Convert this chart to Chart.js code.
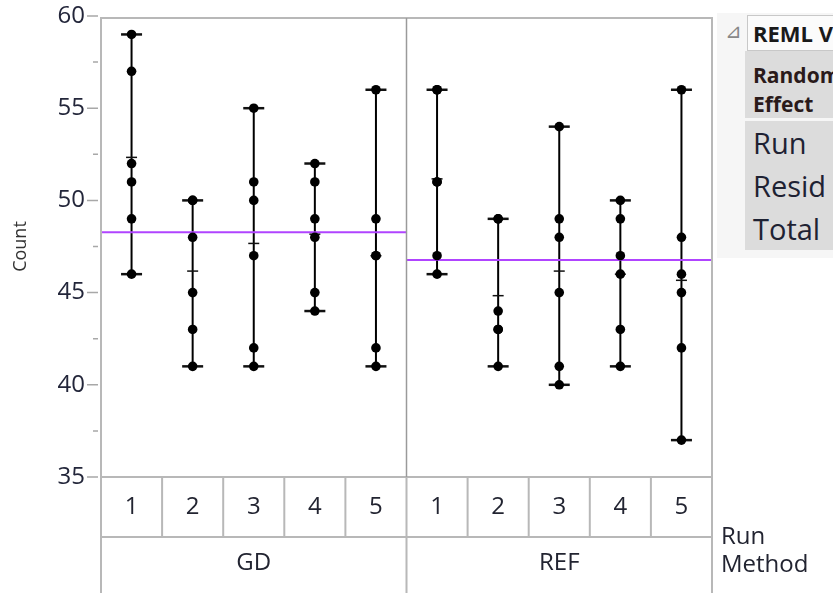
<!DOCTYPE html>
<html>
<head>
<meta charset="utf-8">
<title>Variability Chart for Count</title>
<script src="https://cdn.jsdelivr.net/npm/chart.js@4.4.1/dist/chart.umd.min.js"></script>
<style>
  body { margin: 0; background: #fff; }
  #wrap { position: relative; width: 833px; height: 593px; overflow: hidden; }
  #chart { position: absolute; left: 0; top: 0; }
  #reml { position: absolute; left: 717px; top: 13px; width: 140px; height: 245px; background: #f6f6f6;
          font-family: "Open Sans", sans-serif; color: #1e2233; white-space: nowrap; overflow: hidden; }
  #reml .tri { position: absolute; left: 8px; top: 6px; font-size: 20px; color: #888; font-family: "DejaVu Sans", sans-serif; }
  #reml .head { position: absolute; left: 30px; top: 2px; width: 200px; height: 34px; border: 1px solid #c8c8c8;
                background: #fbfbfb; font-weight: bold; font-size: 22px; line-height: 34px; padding-left: 5px; color: #1a1a1a; }
  #reml .eff { position: absolute; left: 28px; top: 38px; width: 200px; height: 67px; background: #dcdcdc;
               font-weight: bold; font-size: 21px; line-height: 29px; padding: 10px 0 0 8px; box-sizing: border-box; color: #2a1a1a; }
  #reml .rows { position: absolute; left: 28px; top: 108px; width: 200px; height: 129px; background: #dcdcdc;
                font-size: 29px; line-height: 43px; padding-left: 8px; box-sizing: border-box; }
</style>
</head>
<body>
<div id="wrap">
  <canvas id="chart" width="833" height="593"></canvas>
  <div id="reml">
    <div class="tri">⊿</div>
    <div class="head">REML Variance Component Estimates</div>
    <div class="eff">Random<br>Effect</div>
    <div class="rows">Run<br>Resid<br>Total</div>
  </div>
</div>
<script>
// groups along the x axis
const methods = ['GD', 'REF'];
const runs = ['1', '2', '3', '4', '5'];

// Count values per run
const gdRun1 = [59, 57, 52, 51, 49, 46];
const gdRun2 = [50, 50, 48, 45, 43, 41];
const gdRun3 = [55, 51, 50, 47, 42, 41];
const gdRun4 = [52, 51, 49, 48, 45, 44];
const gdRun5 = [56, 49, 47, 47, 42, 41];
const refRun1 = [56, 56, 51, 51, 47, 46];
const refRun2 = [49, 49, 44, 43, 43, 41];
const refRun3 = [54, 49, 48, 45, 41, 40];
const refRun4 = [50, 49, 47, 46, 43, 41];
const refRun5 = [56, 48, 46, 45, 42, 37];

const yTicks = [35, 40, 45, 50, 55, 60];
const yMinorTicks = [37.5, 42.5, 47.5, 52.5, 57.5];

const cells = [
  [gdRun1, gdRun2, gdRun3, gdRun4, gdRun5],
  [refRun1, refRun2, refRun3, refRun4, refRun5]
];

const mean = arr => arr.reduce((a, b) => a + b, 0) / arr.length;

const pointData = [], endData = [], meanData = [], rangeSets = [], grandSets = [];
cells.forEach((group, m) => {
  group.forEach((vals, r) => {
    const x = m * runs.length + r + 0.5;
    vals.forEach(v => pointData.push({ x, y: v }));
    const lo = Math.min(...vals), hi = Math.max(...vals);
    endData.push({ x, y: lo }, { x, y: hi });
    meanData.push({ x, y: mean(vals) });
    rangeSets.push({
      type: 'line', data: [{ x, y: lo }, { x, y: hi }],
      borderColor: '#000', borderWidth: 2, pointRadius: 0, order: 5
    });
  });
  const gm = mean(group.flat());
  grandSets.push({
    type: 'line', data: [{ x: m * runs.length, y: gm }, { x: (m + 1) * runs.length, y: gm }],
    borderColor: '#b044ff', borderWidth: 2, pointRadius: 0, order: 4
  });
});

// frame, minor ticks and the Run / Method table under the plot
const tablePlugin = {
  id: 'jmpTable',
  afterDraw(chart) {
    const { ctx, chartArea: a, scales: { x, y } } = chart;
    const rowY = [a.bottom, 537, 593];
    ctx.save();
    ctx.strokeStyle = '#b8b8b8';
    ctx.lineWidth = 2;
    ctx.strokeRect(a.left, a.top + 2, a.right - a.left, a.bottom - a.top - 2);
    ctx.beginPath();
    ctx.moveTo(a.left, a.bottom); ctx.lineTo(a.left, 593);
    ctx.moveTo(a.right, a.bottom); ctx.lineTo(a.right, 593);
    ctx.moveTo(a.left, rowY[1]); ctx.lineTo(a.right, rowY[1]);
    for (let k = 1; k < methods.length * runs.length; k++) {
      const px = x.getPixelForValue(k);
      ctx.moveTo(px, rowY[0]);
      ctx.lineTo(px, k % runs.length === 0 ? 593 : rowY[1]);
    }
    ctx.stroke();
    // panel divider inside the plot
    ctx.strokeStyle = '#9a9a9a';
    ctx.lineWidth = 1.5;
    ctx.beginPath();
    const dx = x.getPixelForValue(runs.length);
    ctx.moveTo(dx, a.top + 2); ctx.lineTo(dx, a.bottom);
    ctx.stroke();
    // y ticks
    ctx.strokeStyle = '#a8a8a8';
    ctx.lineWidth = 1.5;
    ctx.beginPath();
    yTicks.forEach(v => { const py = y.getPixelForValue(v); ctx.moveTo(a.left - 14, py); ctx.lineTo(a.left - 3, py); });
    yMinorTicks.forEach(v => { const py = y.getPixelForValue(v); ctx.moveTo(a.left - 8, py); ctx.lineTo(a.left - 3, py); });
    ctx.stroke();
    // labels
    ctx.fillStyle = '#222431';
    ctx.textAlign = 'center';
    ctx.textBaseline = 'middle';
    ctx.font = '24px "Open Sans", sans-serif';
    methods.forEach((mName, m) => {
      runs.forEach((rName, r) => {
        ctx.fillText(rName, x.getPixelForValue(m * runs.length + r + 0.5), 507);
      });
      ctx.fillText(mName, x.getPixelForValue(m * runs.length + runs.length / 2), 563);
    });
    ctx.textAlign = 'left';
    ctx.fillText('Run', a.right + 9, 537);
    ctx.fillText('Method', a.right + 9, 565);
    ctx.restore();
  }
};

new Chart(document.getElementById('chart'), {
  type: 'scatter',
  data: {
    datasets: [
      ...rangeSets,
      ...grandSets,
      { data: endData, pointStyle: 'line', pointRadius: 10.5, pointBorderWidth: 2.5,
        borderColor: '#111', backgroundColor: '#111', order: 3 },
      { data: meanData, pointStyle: 'line', pointRadius: 5.5, pointBorderWidth: 1.5,
        borderColor: '#111', backgroundColor: '#111', order: 2 },
      { data: pointData, pointStyle: 'circle', pointRadius: 4.8, pointBorderWidth: 0,
        backgroundColor: '#000', borderColor: '#000', order: 1 }
    ]
  },
  options: {
    responsive: false,
    animation: false,
    layout: { padding: { top: 16, right: 121, bottom: 116, left: 0 } },
    plugins: { legend: { display: false }, tooltip: { enabled: false } },
    scales: {
      x: { type: 'linear', min: 0, max: methods.length * runs.length, display: false },
      y: {
        min: 35, max: 60,
        afterFit: s => { s.width = 101; s.paddingTop = 0; s.paddingBottom = 0; },
        afterBuildTicks: s => { s.ticks = yTicks.map(v => ({ value: v })); },
        grid: { display: false, drawTicks: false },
        border: { display: false },
        ticks: { padding: 16, color: '#23263a', font: { family: 'Open Sans', size: 24 } },
        title: { display: true, text: 'Count', color: '#333', padding: { top: 10, bottom: 0 },
                 font: { family: 'Open Sans', size: 18 } }
      }
    }
  },
  plugins: [tablePlugin]
});
</script>
</body>
</html>
